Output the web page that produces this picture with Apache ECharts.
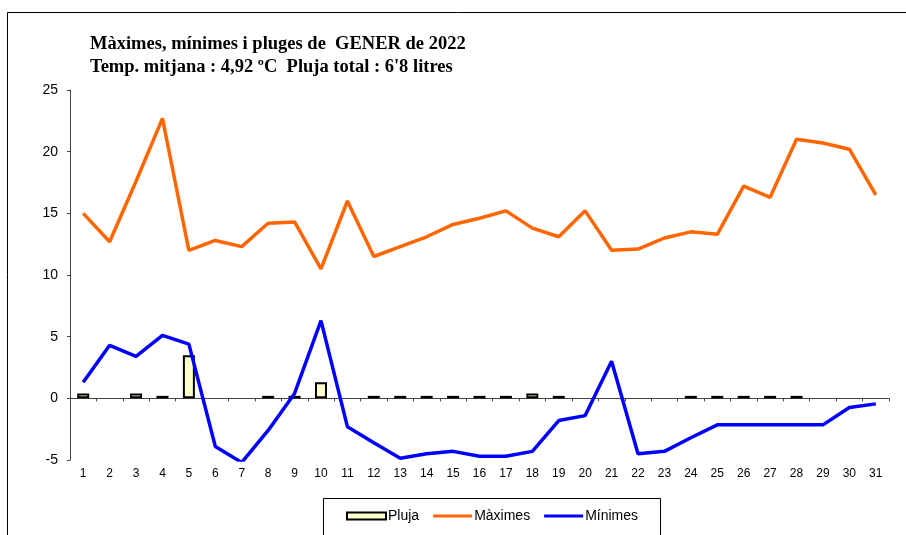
<!DOCTYPE html>
<html><head><meta charset="utf-8">
<script src="https://cdn.jsdelivr.net/npm/echarts@6/dist/echarts.min.js"></script>
<style>html,body{margin:0;padding:0;background:#fff}#c{width:906px;height:535px}</style>
</head><body><div id="c"></div>
<script>
const days = ['1','2','3','4','5','6','7','8','9','10','11','12','13','14','15','16','17','18','19','20','21','22','23','24','25','26','27','28','29','30','31'];
const pluja = [0.4,null,0.4,0.2,3.5,null,null,0.2,0.2,1.3,null,0.2,0.2,0.2,0.2,0.2,0.2,0.4,0.2,null,null,null,null,0.2,0.2,0.2,0.2,0.2,null,null,null];
const maximes = [15.0,12.7,17.6,22.7,12.0,12.8,12.3,14.2,14.3,10.5,16.0,11.5,12.3,13.1,14.1,14.6,15.2,13.8,13.1,15.2,12.0,12.1,13.0,13.5,13.3,17.2,16.3,21.0,20.7,20.2,16.5];
const minimes = [1.3,4.3,3.4,5.1,4.4,-3.9,-5.2,-2.6,0.4,6.3,-2.3,-3.6,-4.85,-4.5,-4.3,-4.7,-4.7,-4.3,-1.8,-1.4,3.0,-4.5,-4.3,-3.2,-2.15,-2.15,-2.15,-2.15,-2.15,-0.75,-0.45];
const yTicks = {min:-5, max:25, interval:5};
const titleLines = ['Màximes, mínimes i pluges de  GENER de 2022','Temp. mitjana : 4,92 ºC  Pluja total : 6\'8 litres'];

// legend line icon: thin centred strip within a 40x7 box (tiny corner specks keep the box size)
const lineIcon = 'path://M0,0L0.01,0L0,0.01Z M0,2L40,2L40,5L0,5Z M40,7L39.99,7L40,6.99Z';

const chart = echarts.init(document.getElementById('c'), null, {renderer:'canvas'});
chart.setOption({
  animation:false,
  backgroundColor:'#fff',
  title:{
    text:titleLines.join('\n'),
    left:85, top:28,
    textStyle:{fontFamily:'Liberation Serif', fontWeight:'bold', fontSize:18.5, lineHeight:23, color:'#000'}
  },
  graphic:[
    {type:'rect', left:5, top:10, shape:{width:1000,height:1000}, style:{fill:'none', stroke:'#000', lineWidth:1}, silent:true},
    {type:'rect', left:321, top:496, shape:{width:337,height:40}, style:{fill:'none', stroke:'#000', lineWidth:1}, silent:true}
  ],
  legend:{
    left:341, top:504, itemGap:14, itemWidth:39, itemHeight:7,
    textStyle:{fontFamily:'Liberation Sans', fontSize:14, color:'#000', padding:[0,0,0,-3]},
    data:[
      {name:'Pluja', icon:'rect'},
      {name:'Màximes', icon:lineIcon, itemStyle:{color:'#FF6600'}},
      {name:'Mínimes', icon:lineIcon, itemStyle:{color:'#0000FF'}}
    ]
  },
  grid:{left:70, right:17, top:90, bottom:75, containLabel:false},
  xAxis:{
    type:'category', data:days, boundaryGap:true,
    axisLine:{onZero:true, lineStyle:{color:'#444', width:1}},
    axisTick:{show:true, alignWithLabel:false, length:3, lineStyle:{color:'#444'}},
    axisLabel:{fontFamily:'Liberation Sans', fontSize:12, color:'#000', margin:8, interval:0}
  },
  yAxis:{
    type:'value', min:yTicks.min, max:yTicks.max, interval:yTicks.interval,
    splitLine:{show:false},
    axisLine:{show:true, lineStyle:{color:'#444', width:1}},
    axisTick:{show:true, length:3, lineStyle:{color:'#444'}},
    axisLabel:{fontFamily:'Liberation Sans', fontSize:14, color:'#000', margin:12}
  },
  series:[
    {name:'Pluja', type:'bar', data:pluja, barWidth:12,
     itemStyle:{color:'#FFFFCC', borderColor:'#000', borderWidth:2}},
    {name:'Màximes', type:'line', data:maximes, showSymbol:false, symbol:'none',
     lineStyle:{color:'#FF6600', width:3.5}, itemStyle:{color:'#FF6600'}},
    {name:'Mínimes', type:'line', data:minimes, showSymbol:false, symbol:'none',
     lineStyle:{color:'#0000FF', width:3.5}, itemStyle:{color:'#0000FF'}}
  ]
});
</script></body></html>
